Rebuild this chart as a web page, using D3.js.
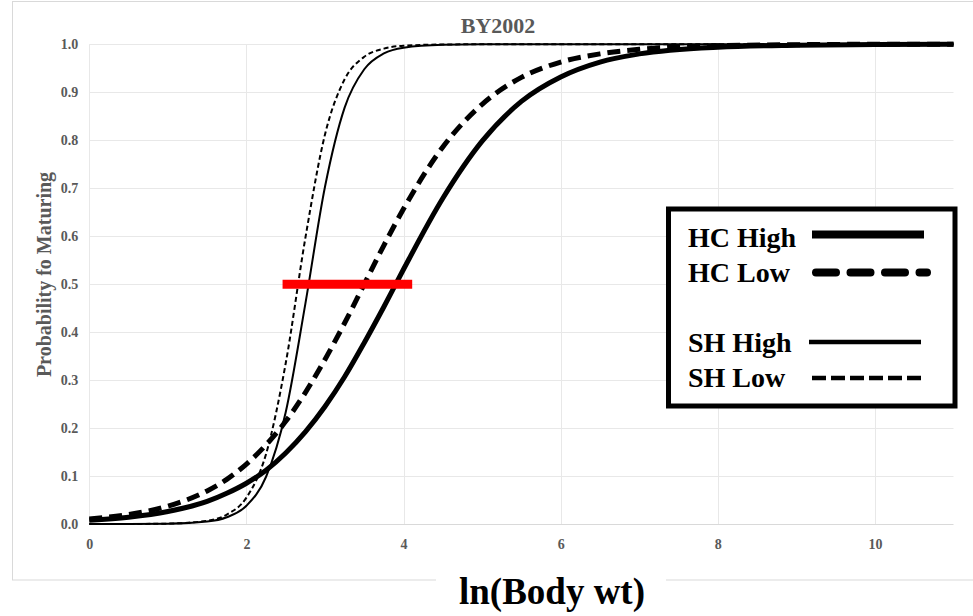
<!DOCTYPE html>
<html>
<head>
<meta charset="utf-8">
<script src="https://cdn.jsdelivr.net/npm/d3@7"></script>
<style>
  html, body { margin: 0; padding: 0; background: #fff; }
  svg { display: block; }
</style>
</head>
<body>
<svg id="chart" width="973" height="616"></svg>
<script>
// ---- data ----
const title = "BY2002";
const xLabel = "ln(Body wt)";
const yLabel = "Probability fo Maturing";
const xTicks = [0, 2, 4, 6, 8, 10];
const yTicks = [0, 0.1, 0.2, 0.3, 0.4, 0.5, 0.6, 0.7, 0.8, 0.9, 1.0];
const xs     = [0, 0.5, 1, 1.5, 1.75, 2, 2.25, 2.5, 2.75, 3, 3.25, 3.5, 3.75, 4, 4.5, 5, 5.5, 6, 6.5, 7, 8, 9, 10, 11];
const hcHigh = [0.0076, 0.0141, 0.026, 0.047, 0.064, 0.085, 0.112, 0.148, 0.192, 0.245, 0.307, 0.378, 0.453, 0.531, 0.679, 0.798, 0.881, 0.932, 0.963, 0.980, 0.994, 0.998, 0.9995, 1.0];
const hcLow  = [0.0105, 0.0198, 0.0373, 0.069, 0.093, 0.125, 0.165, 0.214, 0.274, 0.343, 0.419, 0.50, 0.581, 0.657, 0.786, 0.875, 0.931, 0.963, 0.980, 0.9895, 0.997, 0.9992, 1.0, 1.0];
const shHigh = [0.0, 0.0001, 0.0006, 0.005, 0.014, 0.038, 0.0985, 0.233, 0.459, 0.703, 0.868, 0.948, 0.981, 0.993, 0.999, 1.0, 1.0, 1.0, 1.0, 1.0, 1.0, 1.0, 1.0, 1.0];
const shLow  = [0.0, 0.0001, 0.0008, 0.0068, 0.0196, 0.055, 0.146, 0.335, 0.596, 0.812, 0.927, 0.974, 0.991, 0.997, 0.9996, 1.0, 1.0, 1.0, 1.0, 1.0, 1.0, 1.0, 1.0, 1.0];
const seriesNames = ["HC High", "HC Low", "SH High", "SH Low"];
const redBar = { x0: 2.46, x1: 4.11, y: 0.5 };

// ---- layout ----
const svg = d3.select("#chart");
const font = "'Liberation Serif', 'Times New Roman', serif";
const L = 89.3, R = 953.5, T = 44.3, B = 524;
const x = d3.scaleLinear().domain([0, 11]).range([L, R]);
const y = d3.scaleLinear().domain([0, 1]).range([B, T]);

// outer chart border
svg.append("rect").attr("x", 12.5).attr("y", 1.5).attr("width", 980).attr("height", 578.5)
  .attr("fill", "#fff").attr("stroke", "#d9d9d9").attr("stroke-width", 1);

// gridlines
const g = svg.append("g");
g.selectAll(".hg").data(yTicks).join("line")
  .attr("x1", L).attr("x2", R)
  .attr("y1", d => Math.round(y(d)) + 0.5).attr("y2", d => Math.round(y(d)) + 0.5)
  .attr("stroke", d => d === 0 ? "#d9d9d9" : "#e8e8e8").attr("stroke-width", 1);
g.selectAll(".vg").data(xTicks).join("line")
  .attr("y1", T).attr("y2", B)
  .attr("x1", d => Math.round(x(d)) + 0.5).attr("x2", d => Math.round(x(d)) + 0.5)
  .attr("stroke", "#e8e8e8").attr("stroke-width", 1);

// axes (text only)
const yAxis = d3.axisLeft(y).tickValues(yTicks).tickFormat(d3.format(".1f")).tickSize(0).tickPadding(11);
const ya = svg.append("g").attr("transform", `translate(${L},0)`).call(yAxis);
ya.select(".domain").remove();
ya.selectAll("text").attr("font-family", font).attr("font-weight", "bold").attr("font-size", 14).attr("fill", "#595959");

const xAxis = d3.axisBottom(x).tickValues(xTicks).tickFormat(d3.format("d")).tickSize(0).tickPadding(15);
const xa = svg.append("g").attr("transform", `translate(0,${B})`).call(xAxis);
xa.select(".domain").remove();
xa.selectAll("text").attr("font-family", font).attr("font-weight", "bold").attr("font-size", 14).attr("fill", "#595959");

// title
svg.append("text").attr("x", 498).attr("y", 33).attr("text-anchor", "middle")
  .attr("font-family", font).attr("font-weight", "bold").attr("font-size", 22).attr("fill", "#595959")
  .text(title);

// y label
svg.append("text").attr("transform", `translate(51,${(166 + 383) / 2}) rotate(-90)`)
  .attr("text-anchor", "middle")
  .attr("font-family", font).attr("font-weight", "bold").attr("font-size", 20).attr("fill", "#595959")
  .text(yLabel);

// x label with white box
svg.append("rect").attr("x", 436).attr("y", 575).attr("width", 230).attr("height", 41).attr("fill", "#fff");
svg.append("text").attr("x", 552).attr("y", 604).attr("text-anchor", "middle")
  .attr("font-family", font).attr("font-weight", "bold").attr("font-size", 37).attr("fill", "#000")
  .text(xLabel);

// curves
const styles = [
  { data: hcHigh, width: 5, dash: null },
  { data: hcLow, width: 5, dash: "13,7" },
  { data: shHigh, width: 2, dash: null },
  { data: shLow, width: 2, dash: "5,3" }
];
const line = d3.line().x(d => x(d[0])).y(d => y(d[1])).curve(d3.curveMonotoneX);
const cg = svg.append("g");
styles.forEach(s => {
  cg.append("path")
    .attr("d", line(xs.map((v, i) => [v, s.data[i]])))
    .attr("fill", "none").attr("stroke", "#000")
    .attr("stroke-width", s.width)
    .attr("stroke-dasharray", s.dash)
    .attr("stroke-linejoin", "round");
});

// red 50% bar
svg.append("line").attr("x1", x(redBar.x0)).attr("x2", x(redBar.x1))
  .attr("y1", y(redBar.y)).attr("y2", y(redBar.y))
  .attr("stroke", "#ff0000").attr("stroke-width", 9);

// legend
const lg = svg.append("g");
lg.append("rect").attr("x", 668.5).attr("y", 209).attr("width", 286.5).attr("height", 197)
  .attr("fill", "#fff").attr("stroke", "#000").attr("stroke-width", 5);
const legendRows = [
  { name: seriesNames[0], ty: 247, ly: 234.5, x1: 812, x2: 924, w: 8, dash: null, cap: "butt" },
  { name: seriesNames[1], ty: 281.5, ly: 272.5, x1: 816, x2: 927, w: 8, dash: "20,14.5", cap: "round" },
  { name: seriesNames[2], ty: 352, ly: 342, x1: 809, x2: 921, w: 4.5, dash: null, cap: "butt" },
  { name: seriesNames[3], ty: 387, ly: 378, x1: 812, x2: 924, w: 4.5, dash: "14,5", cap: "butt" }
];
legendRows.forEach(r => {
  lg.append("text").attr("x", 688).attr("y", r.ty)
    .attr("font-family", font).attr("font-weight", "bold").attr("font-size", 28).attr("fill", "#000")
    .text(r.name);
  lg.append("line").attr("x1", r.x1).attr("x2", r.x2).attr("y1", r.ly).attr("y2", r.ly)
    .attr("stroke", "#000").attr("stroke-width", r.w)
    .attr("stroke-dasharray", r.dash).attr("stroke-linecap", r.cap);
});
</script>
</body>
</html>
